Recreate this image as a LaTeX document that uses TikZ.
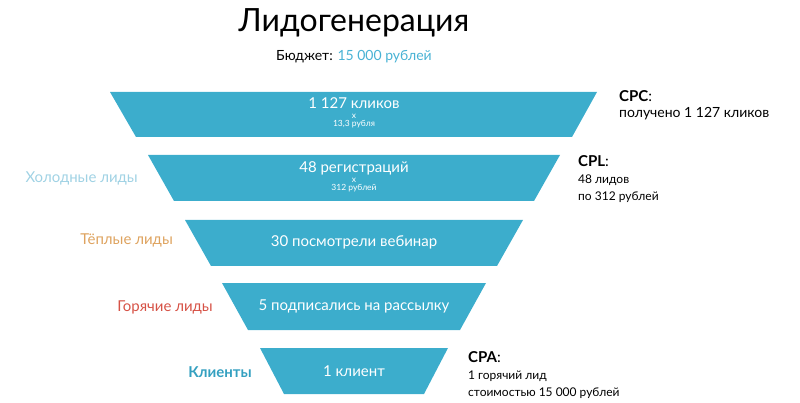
\documentclass[tikz,border=0pt]{standalone}
\usepackage{fontspec}
\setmainfont{Lato}
\usetikzlibrary{positioning}
\definecolor{funnelblue}{RGB}{60,173,204}
\definecolor{coldblue}{RGB}{160,210,228}
\definecolor{warmorange}{RGB}{222,163,95}
\definecolor{hotred}{RGB}{214,82,70}
\definecolor{clientblue}{RGB}{52,160,192}
\definecolor{budgetblue}{RGB}{72,178,212}
\tikzset{
  stagetext/.style={text=white, inner sep=0pt, align=center,
    font=\fontsize{15}{17}\selectfont},
  leadlabel/.style={inner sep=0pt, anchor=east, font=\fontsize{15}{17}\selectfont},
  costlabel/.style={inner sep=0pt, anchor=west, align=left}
}
\newcommand{\tinytext}{\fontsize{8.5}{9}\selectfont}

\begin{document}
\begin{tikzpicture}[x=1pt, y=-1pt]
  \useasboundingbox (0,0) rectangle (800,403);

  \node (TITLE) at (354,23) {\fontsize{32}{34}\selectfont Лидогенерация};
  \node (BUDGET) at (354,57) {\fontsize{14}{16}\selectfont Бюджет: \textcolor{budgetblue}{15 000 рублей}};

  % funnel
  \fill[funnelblue] (110,92) -- (597,92) -- (572,137) -- (136,137) -- cycle;
  \fill[funnelblue] (148,155) -- (560,155) -- (534,201) -- (174,201) -- cycle;
  \fill[funnelblue] (185,220) -- (523,220) -- (497,266) -- (211,266) -- cycle;
  \fill[funnelblue] (222,283) -- (486,283) -- (460,330) -- (248,330) -- cycle;
  \fill[funnelblue] (260,348) -- (448,348) -- (424,394) -- (284,394) -- cycle;

  \node[stagetext] (CLICKS) at (354,113) {1 127 кликов\\[-7pt]{\tinytext x}\\[-9pt]{\tinytext 13,3 рубля}};
  \node[stagetext] (REGS) at (354,177) {48 регистраций\\[-7pt]{\tinytext x}\\[-9pt]{\tinytext 312 рублей}};
  \node[stagetext] (WEBINAR) at (354,242) {30 посмотрели вебинар};
  \node[stagetext] (MAILING) at (354,306) {5 подписались на рассылку};
  \node[stagetext] (CLIENT) at (354,371) {1 клиент};

  \node[leadlabel, text=coldblue] (COLD) at (138,178) {Холодные лиды};
  \node[leadlabel, text=warmorange] (WARM) at (173,240) {Тёплые лиды};
  \node[leadlabel, text=hotred] (HOT) at (213,307) {Горячие лиды};
  \node[leadlabel, text=clientblue, font=\fontsize{15}{17}\selectfont\bfseries] (CLIENTS) at (252,372) {Клиенты};

  \node[costlabel, font=\fontsize{14}{16}\selectfont] (CPC) at (619,105) {{\fontsize{15}{16}\selectfont\textbf{CPC}:}\\получено 1 127 кликов};
  \node[costlabel, font=\fontsize{12}{17}\selectfont] (CPL) at (578,179.5) {{\fontsize{15}{17}\selectfont\textbf{CPL}:}\\48 лидов\\по 312 рублей};
  \node[costlabel, font=\fontsize{12}{17}\selectfont] (CPA) at (468,375) {{\fontsize{15}{17}\selectfont\textbf{CPA}:}\\1 горячий лид\\стоимостью 15 000 рублей};
\end{tikzpicture}
\end{document}
